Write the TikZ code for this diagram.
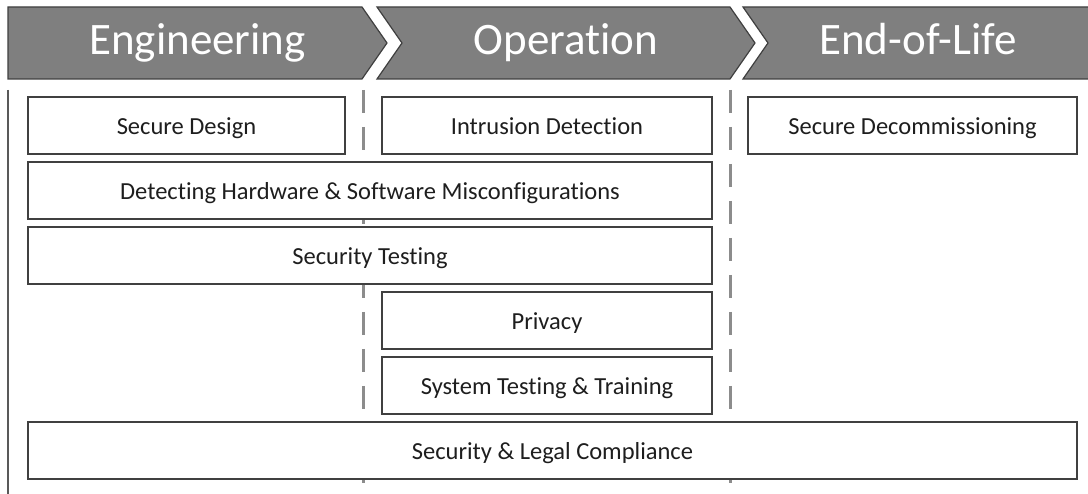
\documentclass[tikz,border=0pt]{standalone}
\usepackage{fontspec}
\setmainfont[Ligatures=NoCommon]{Carlito}
\usepackage{tikz}
\usetikzlibrary{positioning}
\definecolor{PhaseGray}{HTML}{7F7F7F}
\definecolor{PhaseEdge}{HTML}{3F3F3F}
\definecolor{BoxEdge}{HTML}{404040}
\definecolor{BoxText}{HTML}{1E1E1E}
\definecolor{RuleGray}{HTML}{8C8C8C}

\tikzset{
  phase/.style={fill=PhaseGray,draw=PhaseEdge,line width=1.2pt,line join=miter},
  phasetext/.style={text=white,font=\fontsize{45}{54}\selectfont,inner sep=0pt,
    text height=32pt,text depth=8pt},
  task/.style={draw=BoxEdge,fill=white,line width=1.6pt,minimum height=57pt,
    inner sep=0pt,text=BoxText,font=\fontsize{24.5}{29}\selectfont,
    text height=24pt,text depth=5pt},
  phaserule/.style={RuleGray,line width=3pt,dash pattern=on 23pt off 14pt}
}

\begin{document}
\begin{tikzpicture}[x=1pt,y=-1pt]
  \useasboundingbox (0,0) rectangle (1088,494);

  % lifecycle phases
  \draw[phase] (8,7) -- (362,7) -- (387,43) -- (362,79) -- (8,79) -- cycle;
  \draw[phase] (377,7) -- (730,7) -- (755,43) -- (730,79) -- (377,79)
    -- (402,43) -- cycle;
  \draw[phase] (743,7) -- (1096,7) -- (1121,43) -- (1096,79) -- (743,79)
    -- (768,43) -- cycle;
  \node[phasetext] (eng) at (197.5,43) {Engineering};
  \node[phasetext] (ops) at (566,43) {Operation};
  \node[phasetext] (eol) at (918,43) {End-of-Life};

  % separators between the phases
  \coordinate (axtop) at (8,90);
  \coordinate (axbot) at (8,494);
  \draw[black!65,line width=2pt] (axtop) -- (axbot);
  \coordinate (sepAtop) at (363,90);
  \coordinate (sepAbot) at (363,494);
  \coordinate (sepBtop) at (730,90);
  \coordinate (sepBbot) at (730,494);
  \draw[phaserule] (sepAtop) -- (sepAbot);
  \draw[phaserule] (sepBtop) -- (sepBbot);

  % activities
  \node[task,minimum width=317pt] (design) at (186.5,125.5) {Secure Design};
  \node[task,minimum width=330pt] (intrusion) at (547,125.5)
    {Intrusion Detection};
  \node[task,minimum width=329pt] (decom) at (912.5,125.5)
    {Secure Decommissioning};
  \node[task,minimum width=684pt] (misconf) at (370,190.5)
    {Detecting Hardware \& Software Misconfigurations};
  \node[task,minimum width=684pt] (sectest) at (370,255.5) {Security Testing};
  \node[task,minimum width=330pt] (privacy) at (547,320.5) {Privacy};
  \node[task,minimum width=330pt] (systest) at (547,385.5)
    {System Testing \& Training};
  \node[task,minimum width=1049pt] (comply) at (552.5,450.5)
    {Security \& Legal Compliance};
\end{tikzpicture}
\end{document}
